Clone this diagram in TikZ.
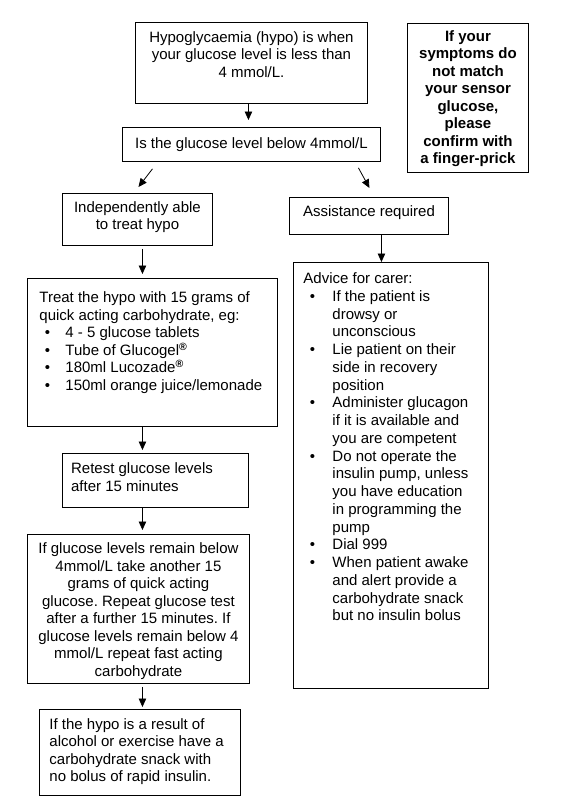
\documentclass[tikz,border=0pt]{standalone}
\usepackage{fontspec}
\setmainfont{Liberation Sans}
\usetikzlibrary{arrows.meta,calc}
\frenchspacing
% centred text: width, height, top gap, body
\newcommand\bxc[4]{\parbox[c][#2pt][t]{#1pt}{\fontsize{15}{17.5}\selectfont\centering\vspace*{#3pt}\strut #4\par}}
% left text: width, height, top gap, left pad, baselineskip, body
\newcommand\bxl[6]{\parbox[c][#2pt][t]{#1pt}{\fontsize{15}{#5}\selectfont\raggedright\leftskip=#4pt\relax\vspace*{#3pt}\strut #6\par}}
% bullet: offset of dot, width to text
\newcommand\bul[2]{\makebox[#2pt][l]{\hspace*{#1pt}\textbullet}}
\tikzset{
  box/.style={draw, line width=0.9pt, inner sep=0pt, anchor=north west},
  arr/.style={-{Triangle[width=7.5pt,length=8.5pt]}, line width=0.8pt}
}
\begin{document}
\begin{tikzpicture}[x=1pt,y=-1pt]
\useasboundingbox (0,0) rectangle (587,811);

\node[box] (top) at (135,22) {\bxc{232}{81}{7.75}{Hypoglycaemia (hypo) is when\\ your glucose level is less than\\ 4 mmol/L.}};
\node[box] (q) at (122,127) {\bxc{258}{34}{8.75}{Is the glucose level below 4mmol/L}};
\node[box] (note) at (407,23) {\bxc{121}{149}{5.75}{\bfseries If your\\ symptoms do\\ not match\\ your sensor\\ glucose,\\ please\\ confirm with\\ a finger-prick}};
\node[box] (indep) at (62,193) {\bxc{150}{52}{6.45}{Independently able\\ to treat hypo}};
\node[box] (assist) at (289,197) {\bxl{159}{37}{6.75}{13.7}{17.5}{Assistance required}};
\node[box] (advice) at (293,262) {\bxl{195}{426}{8.75}{10}{17.75}{Advice for carer:\\
\bul{6.4}{29}If the patient is\\
\hspace*{29pt}drowsy or\\
\hspace*{29pt}unconscious\\
\bul{6.4}{29}Lie patient on their\\
\hspace*{29pt}side in recovery\\
\hspace*{29pt}position\\
\bul{6.4}{29}Administer glucagon\\
\hspace*{29pt}if it is available and\\
\hspace*{29pt}you are competent\\
\bul{6.4}{29}Do not operate the\\
\hspace*{29pt}insulin pump, unless\\
\hspace*{29pt}you have education\\
\hspace*{29pt}in programming the\\
\hspace*{29pt}pump\\
\bul{6.4}{29}Dial 999\\
\bul{6.4}{29}When patient awake\\
\hspace*{29pt}and alert provide a\\
\hspace*{29pt}carbohydrate snack\\
\hspace*{29pt}but no insulin bolus}};
\node[box] (treat) at (27,278) {\bxl{250}{148}{12.25}{12}{17.5}{Treat the hypo with 15 grams of\\
quick acting carbohydrate, eg:\\
\bul{5.4}{26}4 - 5 glucose tablets\\
\bul{5.4}{26}Tube of Glucogel\textsuperscript{\textbf{®}}\\
\bul{5.4}{26}180ml Lucozade\textsuperscript{\textbf{®}}\\
\bul{5.4}{26}150ml orange juice/lemonade}};
\node[box] (retest) at (62,453) {\bxl{186}{54}{8}{8.7}{17.5}{Retest glucose levels\\ after 15 minutes}};
\node[box] (again) at (27,534) {\bxc{222}{149}{7}{If glucose levels remain below\\ 4mmol/L take another 15\\ grams of quick acting\\ glucose. Repeat glucose test\\ after a further 15 minutes. If\\ glucose levels remain below 4\\ mmol/L repeat fast acting\\ carbohydrate}};
\node[box] (last) at (39,709) {\bxl{201}{86}{7.75}{10}{17.5}{If the hypo is a result of\\ alcohol or exercise have a\\ carbohydrate snack with\\ no bolus of rapid insulin.}};

\draw[arr] ($(top.south)+(-3,0)$) -- ($(q.north)+(-3,-7)$);
\draw[arr] ($(q.south)+(-99,7)$) -- ($(indep.north)+(1,-6)$);
\draw[arr] ($(q.south)+(107,6)$) -- ($(assist.north)+(0.5,-9)$);
\draw[arr] ($(indep.south)+(5,3)$) -- ($(treat.north)+(-10,-4)$);
\draw[arr] ($(assist.south)+(12.5,0)$) -- ($(advice.north)+(-9.5,0)$);
\draw[arr] ($(treat.south)+(-10,0)$) -- ($(retest.north)+(-13,-3)$);
\draw[arr] ($(retest.south)+(-13,0)$) -- ($(again.north)+(4,-4)$);
\draw[arr] ($(again.south)+(4,3)$) -- ($(last.north)+(2.5,-2)$);
\end{tikzpicture}
\end{document}
